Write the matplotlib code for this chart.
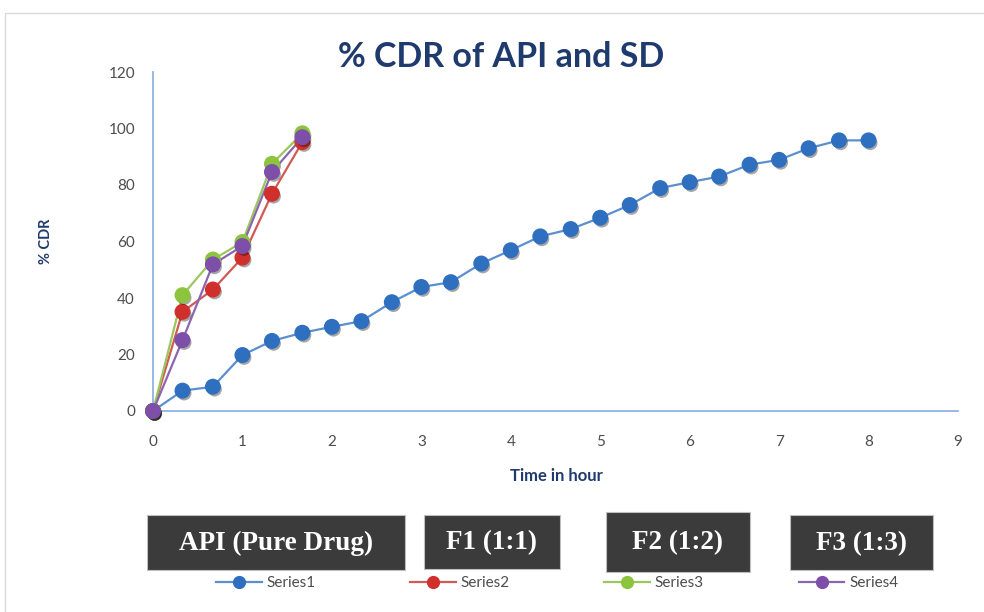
import matplotlib
matplotlib.use("Agg")
import matplotlib.pyplot as plt
import matplotlib.patheffects as pe
from matplotlib.lines import Line2D
from matplotlib.patches import Rectangle

# Sampling times (hours), every 20 minutes
time_api = [0, 0.33, 0.67, 1, 1.33, 1.67, 2, 2.33, 2.67, 3, 3.33, 3.67, 4,
            4.33, 4.67, 5, 5.33, 5.67, 6, 6.33, 6.67, 7, 7.33, 7.67, 8]
time_sd = [0, 0.33, 0.67, 1, 1.33, 1.67]

# % cumulative drug release
series1 = [0, 7.2, 8.6, 19.8, 24.8, 27.7, 29.8, 31.8, 38.5, 43.9, 45.6, 52.2, 56.9,
           61.8, 64.4, 68.4, 72.9, 78.9, 81.0, 83.0, 87.2, 88.9, 93.0, 95.8, 95.8]
series2 = [0, 35.1, 43.0, 54.3, 76.9, 95.2]
series3 = [0, 41.0, 53.6, 59.8, 87.5, 98.3]
series4 = [0, 25.1, 51.9, 58.4, 84.6, 96.9]

series_names = ["Series1", "Series2", "Series3", "Series4"]
box_labels = ["API (Pure Drug)", "F1 (1:1)", "F2 (1:2)", "F3 (1:3)"]

line_colors = ["#5b8fd0", "#d05a55", "#9cc75e", "#8a66b0"]
marker_colors = ["#2f6fbf", "#d0302c", "#8cc43e", "#7d4fa8"]

fig = plt.figure(figsize=(9.84, 6.12), dpi=100)
fig.patches.append(Rectangle((5 / 984, -0.01), 1.0, 1 - 13 / 612 + 0.01,
                             transform=fig.transFigure, fill=False,
                             edgecolor="#d9d9d9", linewidth=1.0))

ax = fig.add_axes([153 / 984, 1 - 411 / 612, 805 / 984, 339 / 612])

shadow = [pe.SimplePatchShadow(offset=(1.2, -1.8), shadow_rgbFace="k", alpha=0.35),
          pe.Normal()]

data = [(time_api, series1), (time_sd, series2), (time_sd, series3), (time_sd, series4)]
for (t, v), lc, mc in zip(data, line_colors, marker_colors):
    ax.plot(t, v, color=lc, linewidth=1.6, zorder=2, clip_on=False)
    ax.plot(t, v, linestyle="none", marker="o", markersize=10.5, clip_on=False,
            markerfacecolor=mc, markeredgecolor=mc, zorder=3, path_effects=shadow)

ax.set_xlim(0, 9)
ax.set_ylim(0, 120)
ax.set_xticks(range(0, 10))
ax.set_yticks(range(0, 121, 20))
ax.tick_params(length=0, labelsize=11, labelcolor="#4d4d4d")
ax.tick_params(axis="y", pad=13)
ax.tick_params(axis="x", pad=17)
for lbl in ax.get_xticklabels() + ax.get_yticklabels():
    lbl.set_fontfamily("Lato")

for side in ["top", "right"]:
    ax.spines[side].set_visible(False)
for side in ["left", "bottom"]:
    ax.spines[side].set_color("#8db3e2")
    ax.spines[side].set_linewidth(1.3)

fig.text(501 / 984, 1 - 57 / 612, "% CDR of API and SD", ha="center", va="center",
         fontsize=24.5, fontweight="bold", color="#1f3b6e", family="Lato")
fig.text(46 / 984, 1 - 241 / 612, "% CDR", ha="center", va="center", rotation=90,
         fontsize=10.5, fontweight="bold", color="#1f3b6e", family="Lato")
fig.text(556 / 984, 1 - 476 / 612, "Time in hour", ha="center", va="center",
         fontsize=12, fontweight="bold", color="#1f3b6e", family="Lato")

# Dark label boxes naming each formulation
boxes = [(147, 515, 258, 55), (424, 515, 136, 54), (606, 512, 144, 60), (790, 515, 143, 55)]
for (x, y, w, h), text in zip(boxes, box_labels):
    fig.patches.append(Rectangle((x / 984, 1 - (y + h) / 612), w / 984, h / 612,
                                 transform=fig.transFigure, facecolor="#3b3b3b",
                                 edgecolor="#bfbfbf", linewidth=0.8))
    fig.text((x + w / 2) / 984, 1 - (y + h / 2 + 1) / 612, text, ha="center",
             va="center", fontsize=19.5, fontweight="bold", color="white",
             family="Liberation Serif")

handles = [Line2D([0], [0], color=lc, linewidth=1.6, marker="o", markersize=8.5,
                  markerfacecolor=mc, markeredgecolor=mc)
           for lc, mc in zip(line_colors, marker_colors)]
leg = fig.legend(handles, series_names, loc="center", ncol=4,
                 bbox_to_anchor=(557 / 984, 1 - 583 / 612), frameon=False,
                 columnspacing=6.2, handlelength=3.0, handletextpad=0.3,
                 prop={"family": "Lato", "size": 11})
for txt in leg.get_texts():
    txt.set_color("#4d4d4d")

fig.savefig("out.png", dpi=100, facecolor="white")
